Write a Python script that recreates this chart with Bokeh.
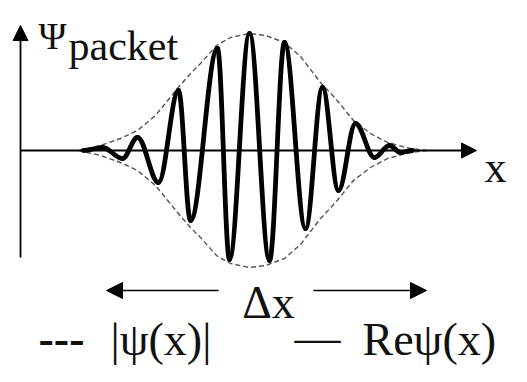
from bokeh.plotting import figure
from bokeh.models import Range1d, Arrow, NormalHead
from bokeh.core.properties import value
from bokeh.embed import file_html
from bokeh.resources import INLINE

# ---- data (arbitrary units: x from the vertical axis, y from the x axis)
# successive extrema of Re psi(x)
wave_x = [63, 82, 102, 117, 138, 158, 170, 197, 209, 229, 249, 264, 285, 302, 318, 335, 354, 369, 380, 392]
wave_y = [0, 3, -8, 13, -32, 60, -70, 102, -109, 117, -110, 108, -78, 63, -40, 27, -7, 5, -2, 0]

# envelope |psi(x)|
env_x = [58, 80, 100, 117, 135, 157, 170, 180, 196, 210, 229, 245, 264, 280, 300, 315, 333, 350, 367, 390, 406]
env_amp = [0, 5, 12, 20, 35, 62, 77, 87, 105, 113, 117, 115, 108, 94, 68, 52, 30, 17, 8, 2, 0]

# axes and delta-x extents
axis_y_extent = [-107, 125]
axis_x_extent = [0, 456]
dx_left = [198, 86]
dx_right = [293, 406]
dx_level = -140

FONT = value("Liberation Serif")

p = figure(width=511, height=366, x_range=Range1d(-20, 491), y_range=Range1d(-216, 150),
           output_backend="svg", toolbar_location=None, min_border=0,
           x_axis_location=None, y_axis_location=None)
p.grid.visible = False
p.outline_line_color = None

# coordinate axes
p.add_layout(Arrow(end=NormalHead(size=15, fill_color="black", line_color="black"),
                   x_start=0, y_start=axis_y_extent[0], x_end=0, y_end=axis_y_extent[1],
                   line_width=1.8, line_color="black"))
p.add_layout(Arrow(end=NormalHead(size=15, fill_color="black", line_color="black"),
                   x_start=axis_x_extent[0], y_start=0, x_end=axis_x_extent[1], y_end=0,
                   line_width=1.8, line_color="black"))

# envelope
p.line(env_x, env_amp, line_color="#555555", line_width=1.4, line_dash="5 3")
p.line(env_x, [-a for a in env_amp], line_color="#555555", line_width=1.4, line_dash="5 3")

# Re psi as smooth half-waves between extrema
k = 0.36
x0 = wave_x[:-1]; x1 = wave_x[1:]
y0 = wave_y[:-1]; y1 = wave_y[1:]
cx0 = [a + k * (b - a) for a, b in zip(x0, x1)]
cx1 = [b - k * (b - a) for a, b in zip(x0, x1)]
p.bezier(x0=x0, y0=y0, x1=x1, y1=y1, cx0=cx0, cy0=y0, cx1=cx1, cy1=y1,
         line_color="black", line_width=4.8, line_cap="round", line_join="round")

# delta-x arrows
for (xs, xe) in (dx_left, dx_right):
    p.add_layout(Arrow(end=NormalHead(size=16, fill_color="black", line_color="black"),
                       x_start=xs, y_start=dx_level, x_end=xe, y_end=dx_level,
                       line_width=1.6, line_color="black"))

# texts
p.text(x=[18], y=[115], text=["Ψ"], text_font=FONT, text_font_size="38px",
       text_baseline="alphabetic", text_color="#111111")
p.text(x=[48], y=[105], text=["packet"], text_font=FONT, text_font_size="42px",
       text_baseline="alphabetic", text_color="#111111")
p.text(x=[464], y=[-17], text=["x"], text_font=FONT, text_font_size="44px",
       text_baseline="alphabetic", text_color="#111111")
p.text(x=[248], y=[-152], text=["Δx"], text_font=FONT, text_font_size="46px",
       text_baseline="alphabetic", text_align="center", text_color="#111111")
p.text(x=[18], y=[-188], text=["---"], text_font=FONT, text_font_size="46px",
       text_font_style="bold", text_baseline="alphabetic", text_color="#111111")
p.text(x=[90], y=[-189], text=["|ψ(x)|"], text_font=FONT, text_font_size="46px",
       text_baseline="alphabetic", text_color="#111111")
p.text(x=[274], y=[-187], text=["—"], text_font=FONT, text_font_size="46px",
       text_baseline="alphabetic", text_color="#111111")
p.text(x=[342], y=[-189], text=["Reψ(x)"], text_font=FONT, text_font_size="46px",
       text_baseline="alphabetic", text_color="#111111")

open("out.html", "w").write(file_html(p, INLINE))
